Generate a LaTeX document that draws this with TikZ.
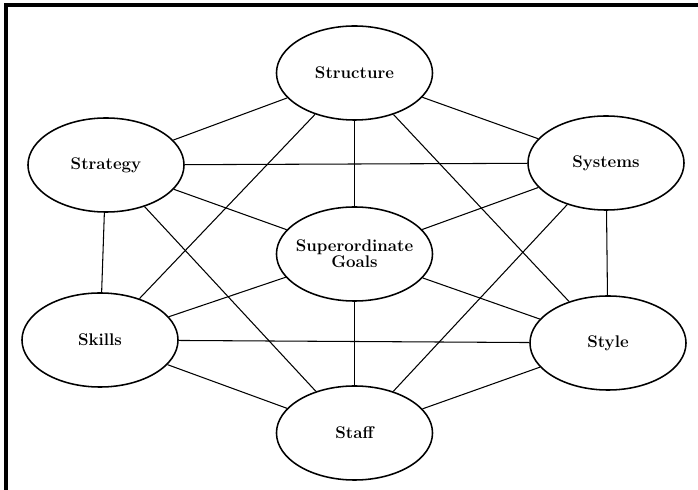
\documentclass[tikz,border=0pt]{standalone}
\usepackage{tikz}
\usetikzlibrary{shapes.geometric}

\begin{document}
\begin{tikzpicture}[
  x=0.025cm, y=-0.025cm,
  every node/.style = {font=\fontsize{12}{11.5}\selectfont\bfseries},
  sbox/.style  = {draw, ellipse, align=center, minimum width=3.9cm,
                  minimum height=2.35cm, inner sep=0pt, line width=1.1pt},
  link/.style  = {line width=0.75pt},
  frame/.style = {line width=2.2pt}
]
\useasboundingbox (0,0) rectangle (698,490);

% frame (top and left only)
\coordinate (fl) at (6,490);
\coordinate (fc) at (6,5);
\coordinate (fr) at (698,5);
\draw[frame] (fl) -- (fc) -- (fr);

% the seven elements
\node[sbox] (structure) at (354.5,73)  {Structure};
\node[sbox] (strategy)  at (106,165)   {Strategy};
\node[sbox] (systems)   at (606,163)   {Systems};
\node[sbox, inner xsep=-3pt] (goals) at (354.5,254) {Superordinate\\Goals};
\node[sbox] (skills)    at (100,340)   {Skills};
\node[sbox] (style)     at (608,343)   {Style};
\node[sbox] (staff)     at (354.5,433) {Staff};

% connections
\draw[link] (structure) -- (strategy);
\draw[link] (structure) -- (systems);
\draw[link] (structure) -- (goals);
\draw[link] (structure) -- (skills);
\draw[link] (structure) -- (style);
\draw[link] (strategy) -- (systems);
\draw[link] (strategy) -- (goals);
\draw[link] (strategy) -- (skills);
\draw[link] (strategy) -- (staff);
\draw[link] (systems) -- (goals);
\draw[link] (systems) -- (style);
\draw[link] (systems) -- (staff);
\draw[link] (skills) -- (goals);
\draw[link] (skills) -- (style);
\draw[link] (skills) -- (staff);
\draw[link] (style) -- (goals);
\draw[link] (style) -- (staff);
\draw[link] (goals) -- (staff);

\end{tikzpicture}
\end{document}
